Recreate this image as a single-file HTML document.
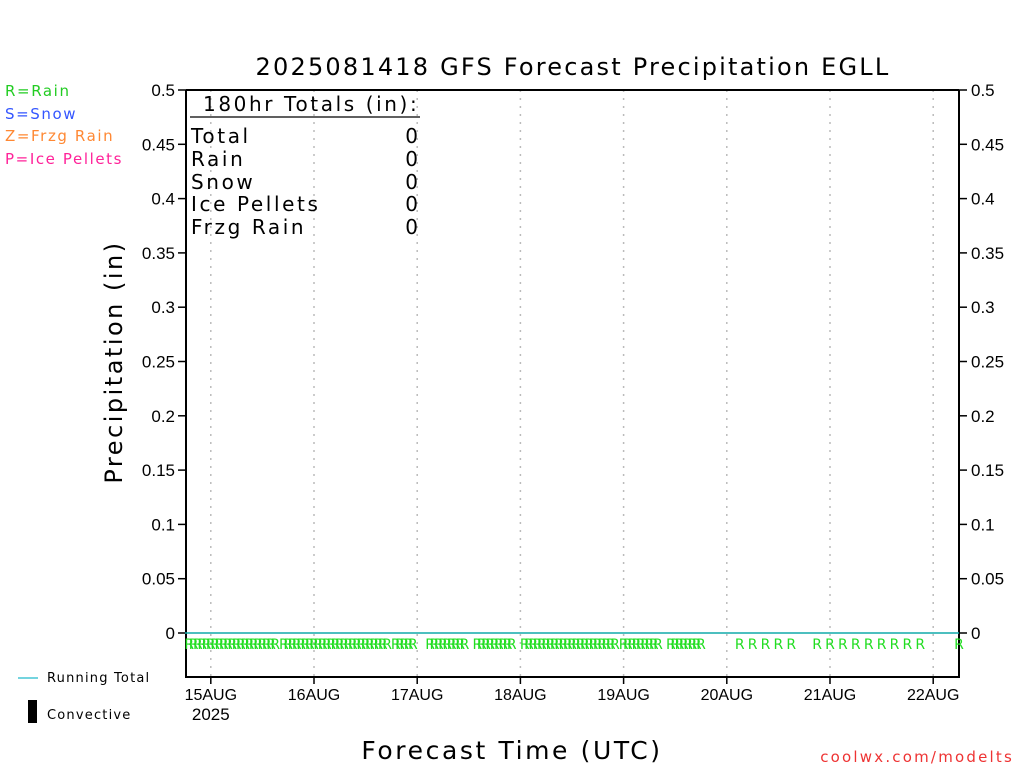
<!DOCTYPE html>
<html><head><meta charset="utf-8"><style>
html,body{margin:0;padding:0;background:#fff;}
svg{display:block;font-family:"DejaVu Sans","Liberation Sans",sans-serif;}
</style></head><body>
<svg id="chart" width="1024" height="768" viewBox="0 0 1024 768">
<text x="573" y="75" font-size="24" letter-spacing="2.2" text-anchor="middle">2025081418 GFS Forecast Precipitation EGLL</text>
<g font-size="15" letter-spacing="1.6">
<text x="5" y="96" fill="#22cc22">R=Rain</text>
<text x="5" y="119" fill="#3355ff">S=Snow</text>
<text x="5" y="141" fill="#ff8833">Z=Frzg Rain</text>
<text x="5" y="164" fill="#ff2299">P=Ice Pellets</text>
</g>
<text transform="translate(122,362) rotate(-90)" font-size="24" letter-spacing="2.5" text-anchor="middle">Precipitation (in)</text>
<text x="512" y="759" font-size="25" letter-spacing="2.6" text-anchor="middle">Forecast Time (UTC)</text>
<text x="1014" y="762" font-size="15" letter-spacing="2.2" fill="#ee3333" text-anchor="end">coolwx.com/modelts</text>
<line x1="18" y1="678" x2="38" y2="678" stroke="#22bbcc" stroke-width="1.2"/>
<text x="47" y="682" font-size="13" letter-spacing="1.2">Running Total</text>
<rect x="28" y="700" width="9" height="23" fill="#000"/>
<text x="47" y="719" font-size="13" letter-spacing="1.2">Convective</text>
<g id="grid"></g><g id="axes"></g><g id="marks"></g>
<g font-size="20" letter-spacing="2.6">
<text x="203" y="111">180hr Totals (in):</text>
<line x1="190" y1="117" x2="420" y2="117" stroke="#000" stroke-width="1.2"/>
<text x="191" y="143">Total</text><text x="418" y="143" text-anchor="end" letter-spacing="0">0</text>
<text x="191" y="166">Rain</text><text x="418" y="166" text-anchor="end" letter-spacing="0">0</text>
<text x="191" y="189">Snow</text><text x="418" y="189" text-anchor="end" letter-spacing="0">0</text>
<text x="191" y="211">Ice Pellets</text><text x="418" y="211" text-anchor="end" letter-spacing="0">0</text>
<text x="191" y="234">Frzg Rain</text><text x="418" y="234" text-anchor="end" letter-spacing="0">0</text>
</g>
</svg>
<script>
const yTicks=[0,0.05,0.1,0.15,0.2,0.25,0.3,0.35,0.4,0.45,0.5];
const yTickLabels=["0","0.05","0.1","0.15","0.2","0.25","0.3","0.35","0.4","0.45","0.5"];
const dayHours=[6,30,54,78,102,126,150,174];
const dayLabels=["15AUG","16AUG","17AUG","18AUG","19AUG","20AUG","21AUG","22AUG"];
const runningTotalHours=[0,180];
const runningTotalValues=[0,0];
const gapHours=[22,48,54,55,56,66,67,77,78,101,111,112];
const rainHours=[];
for(let h=1;h<=120;h++){ if(gapHours.indexOf(h)<0) rainHours.push(h); }
const lateRainHours=[129,132,135,138,141,147,150,153,156,159,162,165,168,171,180];
lateRainHours.forEach(h=>rainHours.push(h));

const X0=185,PX=4.3,Y0=633,Y1=90;
const xs=h=>X0+h*PX;
const ys=v=>Y0-(v/0.5)*(Y0-Y1);
const NS="http://www.w3.org/2000/svg";
function mk(tag,attrs,parent){const e=document.createElementNS(NS,tag);for(const k in attrs)e.setAttribute(k,attrs[k]);parent.appendChild(e);return e;}
const grid=document.getElementById('grid'),axes=document.getElementById('axes'),marks=document.getElementById('marks');
dayHours.forEach((h,i)=>{
 const gl=mk('line',{x1:xs(h),x2:xs(h),y1:90,y2:677,stroke:'#bbb','stroke-width':1.5,'stroke-dasharray':'2,6'},grid);
 
 
 const tk=mk('line',{x1:xs(h),x2:xs(h),y1:677,y2:684,stroke:'#000','stroke-width':1.5},axes);
 
 
 const t=mk('text',{x:xs(h),y:700,'font-size':16,'text-anchor':'middle','font-family':'Liberation Sans, sans-serif'},axes);
 t.textContent=dayLabels[i];
 
 
});
const yr=mk('text',{x:xs(6),y:720,'font-size':17,'text-anchor':'middle','font-family':'Liberation Sans, sans-serif'},axes);
yr.textContent="2025";


const frame=mk('path',{d:'M186,90 H959 M186,90 V677 H959 V90',fill:'none',stroke:'#000','stroke-width':2},axes);


yTicks.forEach((v,i)=>{
 mk('line',{x1:178,x2:186,y1:ys(v),y2:ys(v),stroke:'#000','stroke-width':1.5},axes);
 mk('line',{x1:959,x2:967,y1:ys(v),y2:ys(v),stroke:'#000','stroke-width':1.5},axes);
 const l=mk('text',{x:175,y:ys(v)+6,'font-size':17,'text-anchor':'end','font-family':'Liberation Sans, sans-serif'},axes);
 l.textContent=yTickLabels[i];
 
 
 const r=mk('text',{x:971,y:ys(v)+6,'font-size':17,'font-family':'Liberation Sans, sans-serif'},axes);
 r.textContent=yTickLabels[i];
 
 
});
const pts=runningTotalHours.map((h,i)=>xs(h)+','+ys(runningTotalValues[i])).join(' ');
const rt=mk('polyline',{points:pts,fill:'none',stroke:'#11aaaa','stroke-width':1.5},marks);


rainHours.forEach(h=>{
 const t=mk('text',{x:xs(h),y:649,'font-size':14,fill:'#22dd22','text-anchor':'middle'},marks);
 t.textContent='R';
 
 
});
</script>
</body></html>
